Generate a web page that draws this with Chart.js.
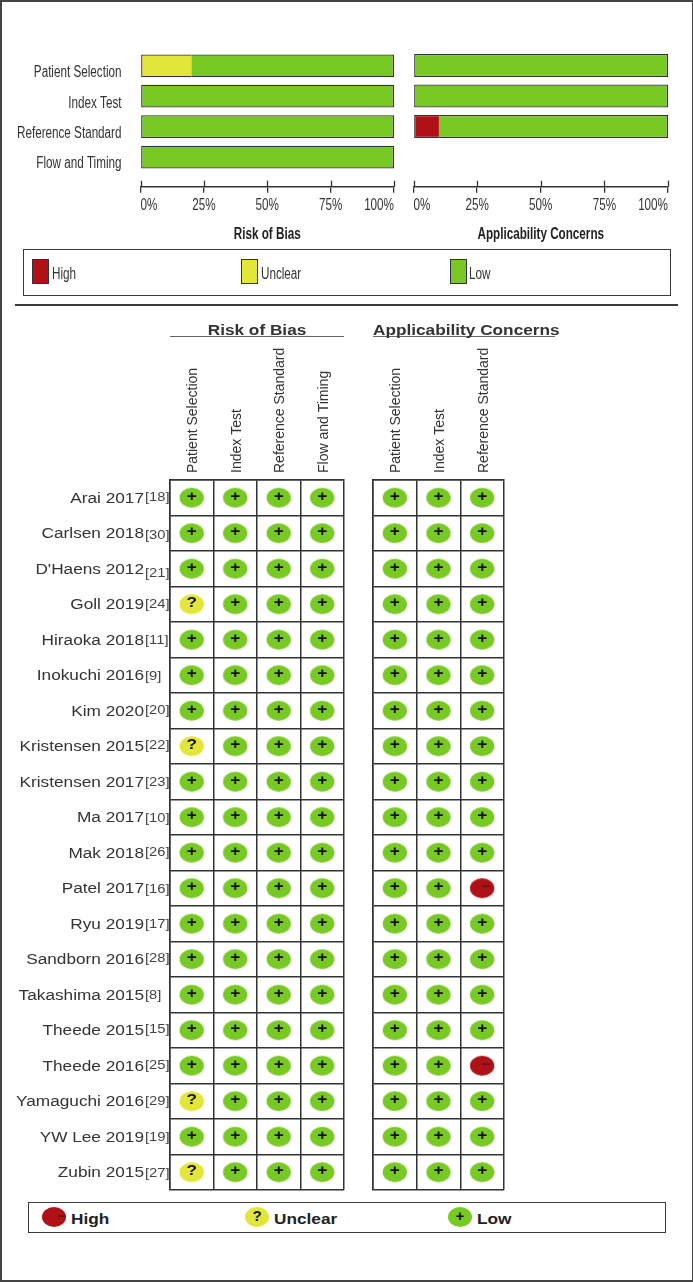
<!DOCTYPE html>
<html>
<head>
<meta charset="utf-8">
<style>
  html, body { margin: 0; padding: 0; background: #fff; }
  #page { position: relative; width: 693px; height: 1282px; overflow: hidden; }
  canvas { position: absolute; }
  .abs { position: absolute; box-sizing: border-box; }
  .hr { position: absolute; background: #3a3a3a; }
  .narrow { font: 16px "Liberation Sans", sans-serif; color: #333; transform: scaleX(.73); transform-origin: left; }
  .wide { font: bold 14px "Liberation Sans", sans-serif; color: #222; transform: scaleX(1.23); transform-origin: left; }
  .oval { position: absolute; width: 24px; height: 20px; border-radius: 50%; text-align: center;
          font: bold 15px/18px "Liberation Sans", sans-serif; color: #111; }
</style>
</head>
<body>
<div id="page">
  <div class="abs" style="left:0;top:0;width:693px;height:1282px;border:solid #444;border-width:2px 1px 2px 2px"></div>

  <canvas id="barsBias"></canvas>
  <canvas id="barsApplic"></canvas>

  <div class="abs" style="left:23px;top:249px;width:648px;height:47px;border:1.5px solid #3a3a3a"></div>
  <div class="abs" style="left:32px;top:259px;width:17px;height:25px;background:#B01116;border:1px solid #333"></div>
  <div class="abs narrow" style="left:52px;top:265px">High</div>
  <div class="abs" style="left:241px;top:259px;width:17px;height:25px;background:#E3E63A;border:1px solid #333"></div>
  <div class="abs narrow" style="left:261px;top:265px">Unclear</div>
  <div class="abs" style="left:450px;top:259px;width:17px;height:25px;background:#79C925;border:1px solid #333"></div>
  <div class="abs narrow" style="left:469px;top:265px">Low</div>

  <div class="hr" style="left:15px;top:304px;width:663px;height:1.5px"></div>
  <div class="hr" style="left:170px;top:335.5px;width:174px;height:1.5px;background:#666"></div>
  <div class="hr" style="left:373px;top:335.5px;width:182px;height:1.5px;background:#666"></div>

  <canvas id="gridBias"></canvas>
  <canvas id="gridApplic"></canvas>

  <div class="abs" style="left:28px;top:1202px;width:638px;height:31px;border:1.5px solid #3a3a3a"></div>
  <div class="oval" style="left:42px;top:1207px;background:#B01116;color:#5a1a1a;text-align:right">&minus;</div>
  <div class="abs wide" style="left:71px;top:1211px">High</div>
  <div class="oval" style="left:245px;top:1207px;background:#E3E63A">?</div>
  <div class="abs wide" style="left:274px;top:1211px">Unclear</div>
  <div class="oval" style="left:448px;top:1207px;background:#79C925">+</div>
  <div class="abs wide" style="left:477px;top:1211px">Low</div>
</div>

<script src="https://cdn.jsdelivr.net/npm/chart.js@4"></script>
<script>
// summary bars (percent of studies)
const biasDomains = ['Patient Selection', 'Index Test', 'Reference Standard', 'Flow and Timing'];
const biasHigh = [0, 0, 0, 0];
const biasUnclear = [20, 0, 0, 0];
const biasLow = [80, 100, 100, 100];

const applicDomains = ['Patient Selection', 'Index Test', 'Reference Standard'];
const applicHigh = [0, 0, 10];
const applicUnclear = [0, 0, 0];
const applicLow = [100, 100, 90];

// per study judgements
const studies = ['Arai 2017', 'Carlsen 2018', "D'Haens 2012", 'Goll 2019', 'Hiraoka 2018', 'Inokuchi 2016', 'Kim 2020',
  'Kristensen 2015', 'Kristensen 2017', 'Ma 2017', 'Mak 2018', 'Patel 2017', 'Ryu 2019', 'Sandborn 2016',
  'Takashima 2015', 'Theede 2015', 'Theede 2016', 'Yamaguchi 2016', 'YW Lee 2019', 'Zubin 2015'];
const refs = ['[18]', '[30]', '[21]', '[24]', '[11]', '[9]', '[20]', '[22]', '[23]', '[10]', '[26]', '[16]', '[17]',
  '[28]', '[8]', '[15]', '[25]', '[29]', '[19]', '[27]'];

const biasPatient = ['+', '+', '+', '?', '+', '+', '+', '?', '+', '+', '+', '+', '+', '+', '+', '+', '+', '?', '+', '?'];
const biasIndex = ['+', '+', '+', '+', '+', '+', '+', '+', '+', '+', '+', '+', '+', '+', '+', '+', '+', '+', '+', '+'];
const biasReference = ['+', '+', '+', '+', '+', '+', '+', '+', '+', '+', '+', '+', '+', '+', '+', '+', '+', '+', '+', '+'];
const biasFlow = ['+', '+', '+', '+', '+', '+', '+', '+', '+', '+', '+', '+', '+', '+', '+', '+', '+', '+', '+', '+'];
const applicPatient = ['+', '+', '+', '+', '+', '+', '+', '+', '+', '+', '+', '+', '+', '+', '+', '+', '+', '+', '+', '+'];
const applicIndex = ['+', '+', '+', '+', '+', '+', '+', '+', '+', '+', '+', '+', '+', '+', '+', '+', '+', '+', '+', '+'];
const applicReference = ['+', '+', '+', '+', '+', '+', '+', '+', '+', '+', '+', '-', '+', '+', '+', '+', '-', '+', '+', '+'];

const RED = '#B01116', YELLOW = '#E3E63A', GREEN = '#79C925', INK = '#333';
const SANS = '"Liberation Sans", sans-serif';

function place(id, left, top, w, h) {
  const c = document.getElementById(id);
  c.style.left = left + 'px';
  c.style.top = top + 'px';
  c.width = w;
  c.height = h;
  return c;
}

// the original picture is squashed/stretched sideways, so the text has to follow
function stretchText(sx, rotated) {
  return {
    id: 'stretchText',
    beforeDraw(chart) {
      const ctx = chart.ctx;
      if (ctx.plainFillText) return;
      ctx.plainFillText = ctx.fillText.bind(ctx);
      ctx.fillText = (text, x, y) => {
        ctx.save();
        ctx.translate(x, y);
        if (Math.abs(ctx.getTransform().b) > .1) ctx.scale(1, rotated);
        else ctx.scale(sx, 1);
        ctx.plainFillText(text, 0, 0);
        ctx.restore();
      };
    }
  };
}

// x axis sits below the bars, so move it down and add the upper half of its ticks
const axisDrop = {
  id: 'axisDrop',
  afterLayout(chart) {
    chart.scales.x.top += 14.5;
  },
  afterDraw(chart) {
    const x = chart.scales.x, ctx = chart.ctx;
    ctx.save();
    ctx.strokeStyle = INK;
    ctx.lineWidth = 1.3;
    x.ticks.forEach(t => {
      const px = Math.round(x.getPixelForValue(t.value)) + .5;
      ctx.beginPath();
      ctx.moveTo(px, x.top - 6);
      ctx.lineTo(px, x.top);
      ctx.stroke();
    });
    ctx.restore();
  }
};

function makeBars(id, left, width, axisWidth, labels, high, unclear, low, showLabels, title) {
  const canvas = place(id, left, 30, width, 220);
  const edge = (ctx, first) => ({ top: 1.3, bottom: 1.3, left: first ? 1.3 : 0, right: ctx.datasetIndex === 2 ? 1.3 : 0 });
  return new Chart(canvas, {
    type: 'bar',
    data: {
      labels: labels,
      datasets: [
        { label: 'High', data: high, backgroundColor: RED,
          borderWidth: ctx => edge(ctx, true) },
        { label: 'Unclear', data: unclear, backgroundColor: YELLOW,
          borderWidth: ctx => edge(ctx, !high[ctx.dataIndex]) },
        { label: 'Low', data: low, backgroundColor: GREEN,
          borderWidth: ctx => edge(ctx, !high[ctx.dataIndex] && !unclear[ctx.dataIndex]) }
      ]
    },
    options: {
      indexAxis: 'y',
      responsive: false,
      animation: false,
      layout: { autoPadding: false, padding: { top: 20.25, right: 6 } },
      datasets: { bar: { categoryPercentage: 1, barPercentage: .75, borderColor: INK, borderSkipped: false } },
      plugins: { legend: { display: false }, tooltip: { enabled: false } },
      scales: {
        x: {
          stacked: true,
          min: 0,
          max: 100,
          afterFit: s => { s.height = 77.75; },
          border: { color: INK, width: 1.5 },
          grid: { drawOnChartArea: false, color: INK, tickLength: 6, lineWidth: 1.3 },
          ticks: { stepSize: 25, align: 'inner', padding: 3, maxRotation: 0, color: INK,
            font: { family: SANS, size: 16 }, callback: v => v + '%' },
          title: { display: true, text: title, color: '#222', padding: { top: 0, bottom: 6 },
            font: { family: SANS, size: 16, weight: 'bold' } }
        },
        y: {
          stacked: true,
          afterFit: s => { s.width = axisWidth; },
          border: { display: false },
          grid: { display: false },
          ticks: { display: showLabels, padding: 11, labelOffset: 7, color: INK, font: { family: SANS, size: 16 } }
        }
      }
    },
    plugins: [stretchText(.73, 1), axisDrop]
  });
}

makeBars('barsBias', 0, 400, 140.5, biasDomains, biasHigh, biasUnclear, biasLow, true, 'Risk of Bias');
makeBars('barsApplic', 400, 274, 13.5, [...applicDomains, ''], applicHigh, applicUnclear, applicLow, false, 'Applicability Concerns');

// oval markers
function oval(fill) {
  const c = document.createElement('canvas');
  c.width = 26;
  c.height = 22;
  const g = c.getContext('2d');
  g.fillStyle = fill;
  g.beginPath();
  g.ellipse(13, 11, 12.2, 10, 0, 0, Math.PI * 2);
  g.fill();
  return c;
}
const ovals = { '+': oval(GREEN), '?': oval(YELLOW), '-': oval(RED) };

// + ? - signs on top of the ovals
const signs = {
  id: 'signs',
  afterDatasetsDraw(chart) {
    const ctx = chart.ctx;
    ctx.save();
    ctx.textAlign = 'center';
    ctx.textBaseline = 'middle';
    chart.getDatasetMeta(0).data.forEach((pt, i) => {
      const mark = chart.data.datasets[0].data[i].mark;
      ctx.fillStyle = mark === '-' ? '#5a1a1a' : '#111';
      ctx.font = 'bold 14px ' + SANS;
      ctx.fillText(mark === '-' ? '\u2212' : mark, pt.x + (mark === '-' ? 4 : 0), pt.y - 1);
    });
    ctx.restore();
  }
};

// reference numbers beside the study names, they wander up and down in the original
const refShift = [-1, 1.5, 3.5, -1, 0, 0, -1.5, -1.5, 0, 0, -1, 0, -.5, -1.5, 0, -1.5, -1.5, -1, 0, 0];
const refLabels = {
  id: 'refLabels',
  afterDraw(chart) {
    const y = chart.scales.y, ctx = chart.ctx;
    ctx.save();
    ctx.font = '12px ' + SANS;
    ctx.fillStyle = '#444';
    ctx.textBaseline = 'middle';
    refs.forEach((r, i) => ctx.fillText(r, 145, y.getPixelForValue(i) + 1 + refShift[i]));
    ctx.restore();
  }
};

function makeGrid(id, left, width, padRight, axisWidth, domains, columns, title, titleAlign, withNames) {
  const points = [];
  columns.forEach((col, c) => col.forEach((mark, r) => points.push({ x: domains[c], y: studies[r], mark: mark })));
  const canvas = place(id, left, 320, width, 880);
  return new Chart(canvas, {
    type: 'scatter',
    data: {
      datasets: [{
        data: points,
        pointStyle: ctx => ovals[ctx.raw.mark],
        pointRadius: 12
      }]
    },
    options: {
      responsive: false,
      animation: false,
      layout: { autoPadding: false, padding: { right: padRight, bottom: 10 } },
      plugins: { legend: { display: false }, tooltip: { enabled: false } },
      scales: {
        x: {
          type: 'category',
          labels: domains,
          position: 'top',
          offset: true,
          afterFit: s => { s.height = 160; s.paddingLeft = 0; s.paddingRight = 0; },
          border: { color: INK, width: 1.5 },
          grid: { offset: true, color: INK, lineWidth: 1.5, drawTicks: false },
          ticks: { autoSkip: false, minRotation: 90, maxRotation: 90, padding: 7, labelOffset: 18, color: INK, font: { family: SANS, size: 14 } },
          title: { display: true, text: title, align: titleAlign, color: '#333', padding: { top: 3, bottom: 0 },
            font: { family: SANS, size: 14, weight: 'bold' } }
        },
        y: {
          type: 'category',
          labels: studies,
          offset: true,
          afterFit: s => { s.width = axisWidth; s.paddingTop = 0; s.paddingBottom = 0; },
          border: { color: INK, width: 1.5 },
          grid: { offset: true, color: INK, lineWidth: 1.5, drawTicks: false },
          ticks: { display: withNames, autoSkip: false, padding: 26, labelOffset: 1, color: INK, font: { family: SANS, size: 14 } }
        }
      }
    },
    plugins: withNames ? [stretchText(1.23, 1.1), signs, refLabels] : [stretchText(1.23, 1.1), signs]
  });
}

makeGrid('gridBias', 0, 350, 6, 170, biasDomains, [biasPatient, biasIndex, biasReference, biasFlow], 'Risk of Bias', 'center', true);
makeGrid('gridApplic', 350, 260, 106, 23, applicDomains, [applicPatient, applicIndex, applicReference], 'Applicability Concerns', 'start', false);
</script>
</body>
</html>
